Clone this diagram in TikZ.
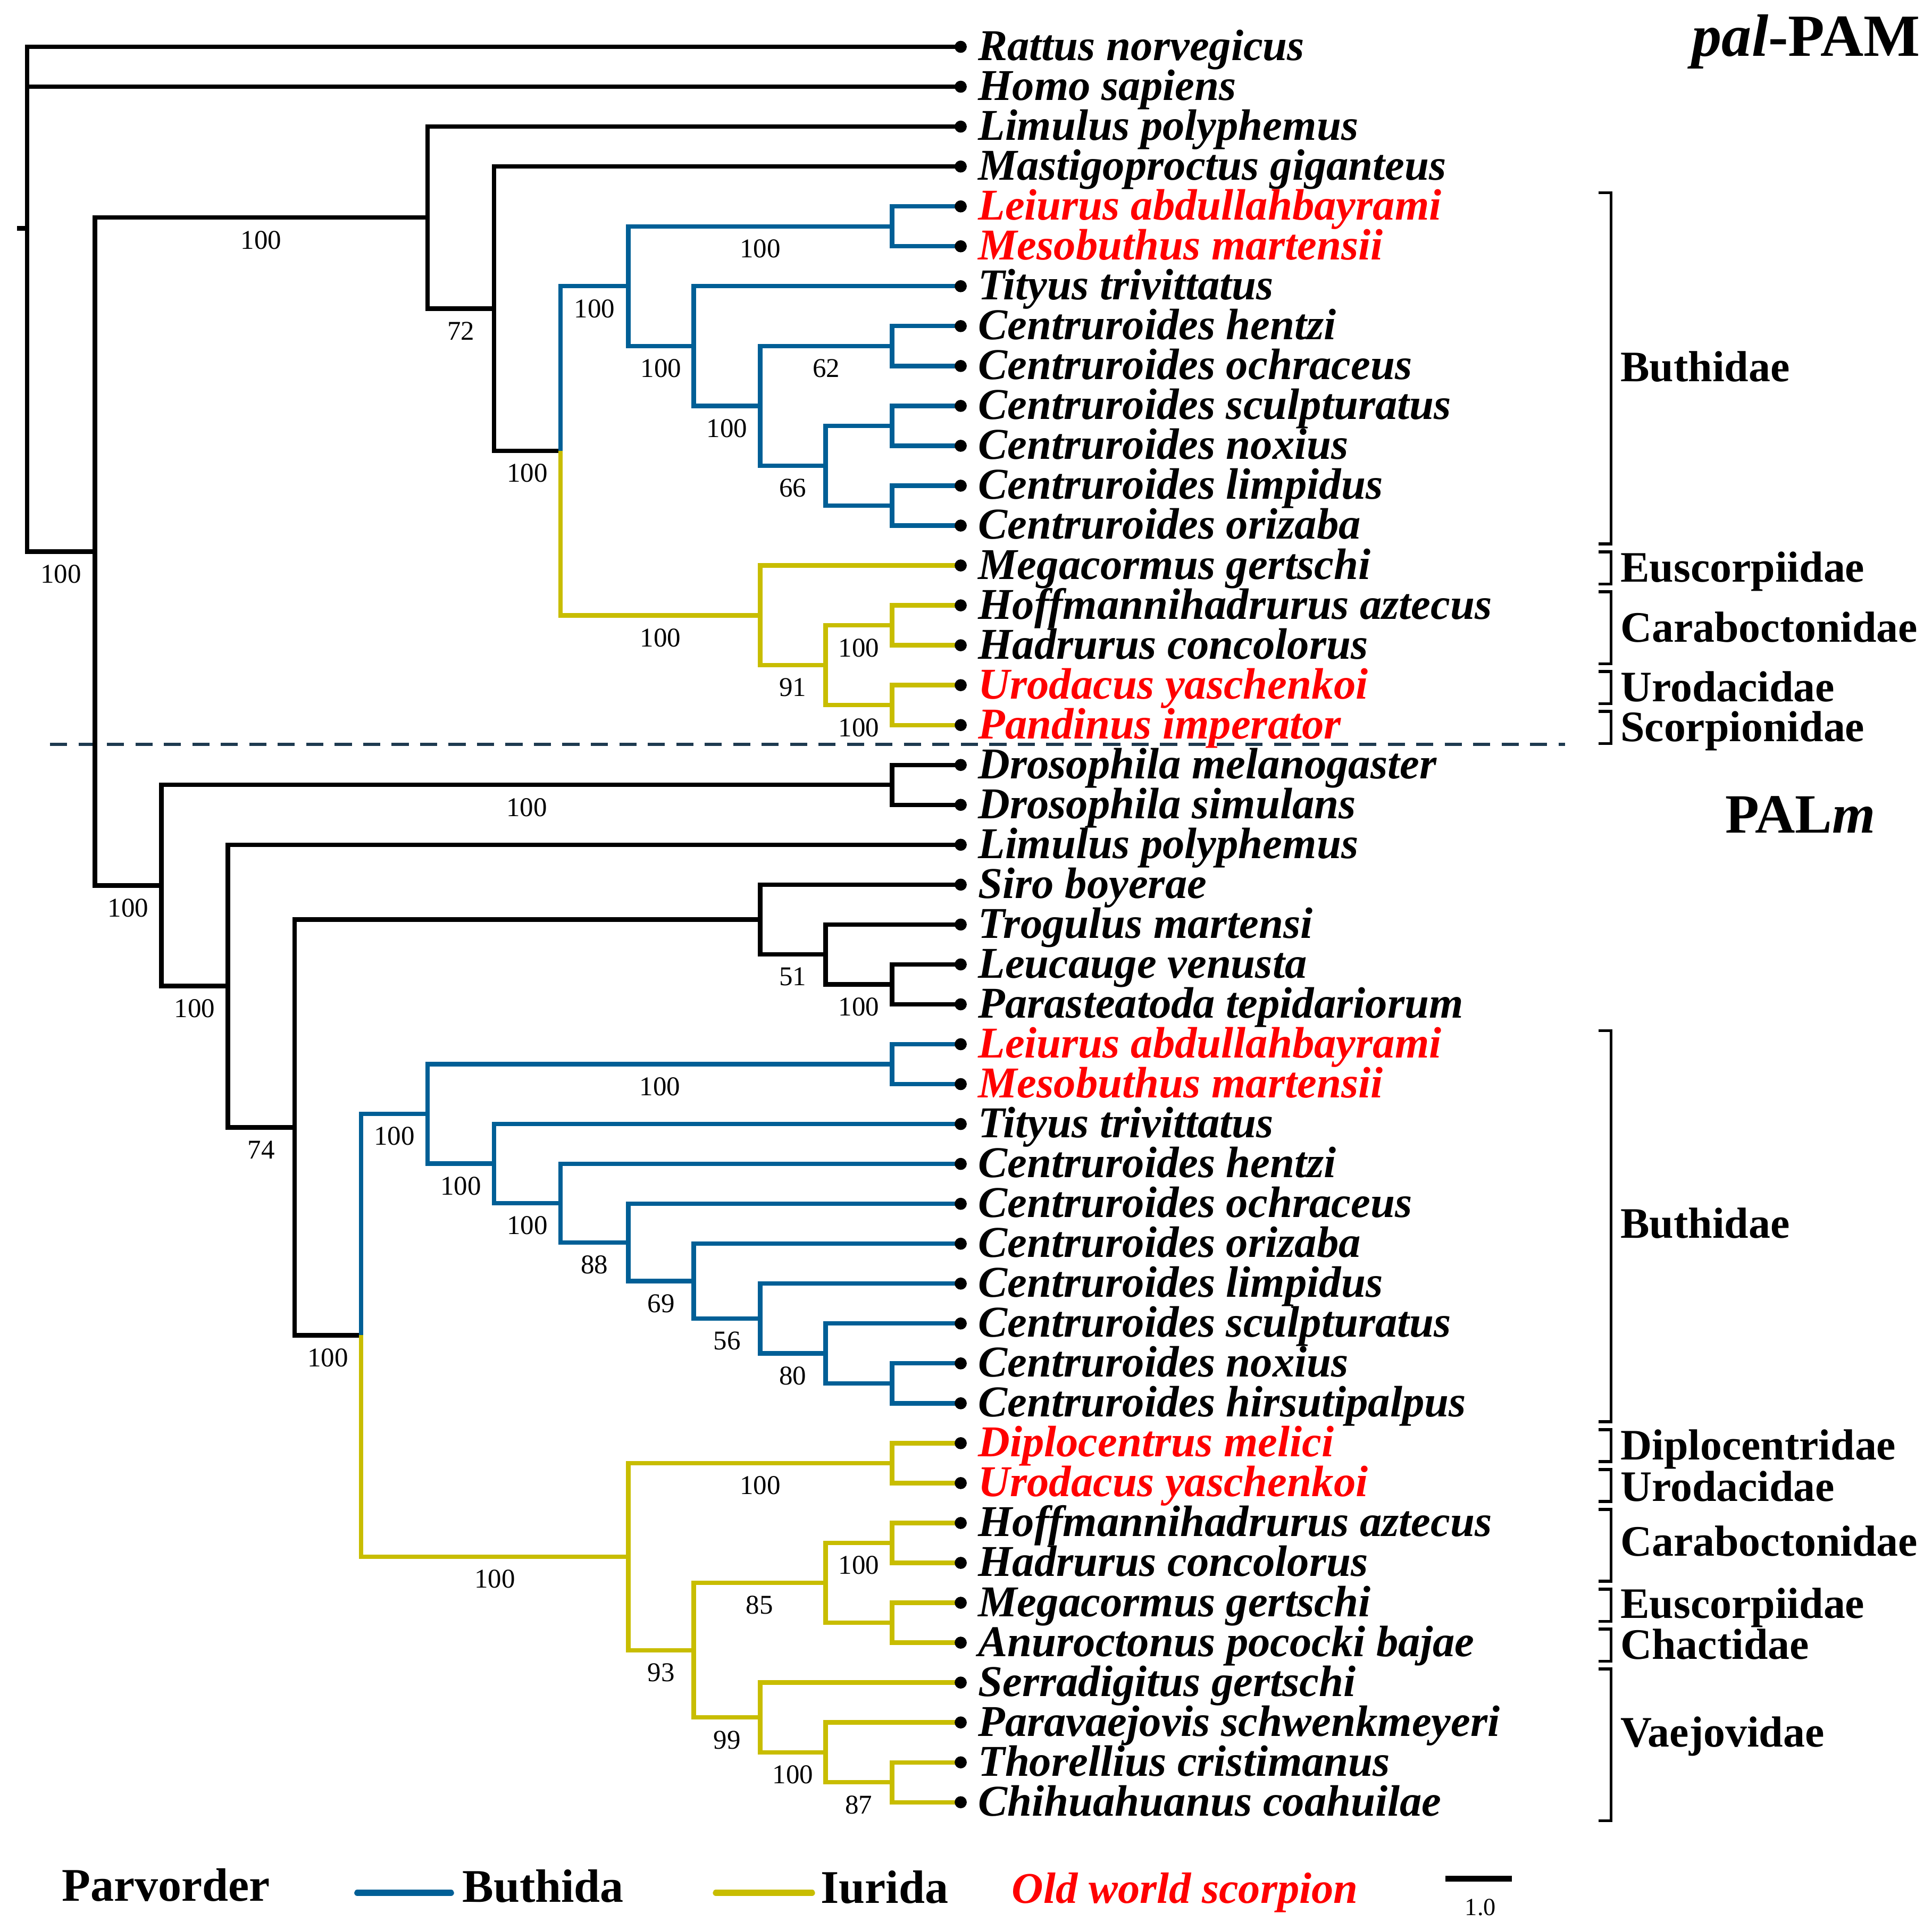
\documentclass[tikz,border=0pt]{standalone}
\usepackage{fontspec}
\setmainfont{Liberation Serif}
\definecolor{buth}{RGB}{0,95,150}
\definecolor{iur}{RGB}{200,189,0}
\definecolor{dashc}{RGB}{30,58,80}
\definecolor{owred}{RGB}{255,0,0}
\tikzset{
  br/.style={line width=3.6pt, line join=miter},
  brk/.style={line width=2.4pt, line join=miter},
  leafdot/.style={circle, fill=black, inner sep=0pt, minimum size=9.8pt},
  leaftxt/.style={anchor=base west, inner sep=0pt, font=\fontsize{35.7}{40}\selectfont\bfseries\itshape},
  boot/.style={pos=0.75, anchor=north, yshift=-9pt, inner sep=0pt, text=black, font=\fontsize{22}{24}\selectfont},
  fam/.style={anchor=base west, inner sep=0pt, font=\fontsize{35.3}{40}\selectfont\bfseries},
  legtxt/.style={anchor=base west, inner sep=0pt, font=\fontsize{38}{40}\selectfont\bfseries},
  legline/.style={line width=5pt, line cap=round},
}
\newcommand\tbr[3][black]{\draw[br,#1] (#2) |- (#3);}
\newcommand\tbl[5][black]{\draw[br,#1] (#2) |- (#3) node[boot] (#4) {#5};}
\newcommand\famlab[5]{%
  \pgfmathsetmacro\fya{38+32.386*#1-11}%
  \pgfmathsetmacro\fyb{38+32.386*#2+15}%
  \pgfmathsetmacro\fyc{38+32.386*(#1+#2)/2+13.5+#5}%
  \draw[brk] (1297.5,\fya) -- (1307.5,\fya) -- (1307.5,\fyb) -- (1297.5,\fyb);
  \node[fam] (#3) at (1315,\fyc) {#4};
}
\begin{document}
\begin{tikzpicture}[x=1pt,y=-1pt]
\useasboundingbox (0,0) rectangle (1568,1566.7);

% leaves
\foreach \i in {0,...,44} {\coordinate (l\i) at (779.7,{38+32.386*\i});}

% internal nodes
\coordinate (root) at (22,185.37);
\coordinate (stub) at (14,185.37);
\coordinate (nA) at (77,447.73);
\coordinate (nB) at (347,176.65);
\coordinate (nC) at (401,250.54);
\coordinate (nD) at (455,365.91);
\coordinate (nE) at (510,232.32);
\coordinate (nF) at (724,183.74);
\coordinate (nG) at (563,280.90);
\coordinate (nH) at (617,329.48);
\coordinate (nI) at (724,280.90);
\coordinate (nJ) at (670,378.06);
\coordinate (nK) at (724,345.67);
\coordinate (nL) at (724,410.45);
\coordinate (nM) at (617,499.51);
\coordinate (nN) at (670,539.99);
\coordinate (nO) at (724,507.60);
\coordinate (nP) at (724,572.38);
\coordinate (nQ) at (131,718.80);
\coordinate (nR) at (724,637.15);
\coordinate (nS) at (185,800.46);
\coordinate (nT) at (239,915.18);
\coordinate (nU) at (617,746.45);
\coordinate (nW) at (670,774.79);
\coordinate (nX) at (724,799.08);
\coordinate (nV) at (293,1083.92);
\coordinate (nY) at (347,904.21);
\coordinate (nYa) at (724,863.85);
\coordinate (nAA) at (401,944.56);
\coordinate (nAB) at (455,976.70);
\coordinate (nAC) at (510,1008.58);
\coordinate (nAD) at (563,1039.95);
\coordinate (nAE) at (617,1070.32);
\coordinate (nAF) at (670,1098.65);
\coordinate (nAG) at (724,1122.94);
\coordinate (nZ) at (510,1263.62);
\coordinate (nZa) at (724,1187.72);
\coordinate (nAH) at (563,1339.53);
\coordinate (nAI) at (670,1284.87);
\coordinate (nAIa) at (724,1252.49);
\coordinate (nAIb) at (724,1317.26);
\coordinate (nAJ) at (617,1394.18);
\coordinate (nAK) at (670,1422.52);
\coordinate (nAKa) at (724,1446.81);

% dashed separator
\coordinate (dl) at (40.6,604.4);
\coordinate (dr) at (1270,604.4);
\draw[dashc, line width=2.6pt, dash pattern=on 13.9pt off 9.2pt] (dl) -- (dr);

% ---------- top tree (pal-PAM) ----------
\draw[br] (root) -- (stub);
\tbr{root}{l0}
\tbr{root}{l1}
\tbl{root}{nA}{b1}{100}
\tbl{nA}{nB}{b2}{100}
\tbr{nB}{l2}
\tbl{nB}{nC}{b3}{72}
\tbr{nC}{l3}
\tbl{nC}{nD}{b4}{100}
\tbl[buth]{nD}{nE}{b5}{100}
\tbl[buth]{nE}{nF}{b6}{100}
\tbr[buth]{nF}{l4}
\tbr[buth]{nF}{l5}
\tbl[buth]{nE}{nG}{b7}{100}
\tbr[buth]{nG}{l6}
\tbl[buth]{nG}{nH}{b8}{100}
\tbl[buth]{nH}{nI}{b9}{62}
\tbr[buth]{nI}{l7}
\tbr[buth]{nI}{l8}
\tbl[buth]{nH}{nJ}{b10}{66}
\tbr[buth]{nJ}{nK}
\tbr[buth]{nK}{l9}
\tbr[buth]{nK}{l10}
\tbr[buth]{nJ}{nL}
\tbr[buth]{nL}{l11}
\tbr[buth]{nL}{l12}
\tbl[iur]{nD}{nM}{b11}{100}
\tbr[iur]{nM}{l13}
\tbl[iur]{nM}{nN}{b12}{91}
\tbl[iur]{nN}{nO}{b13}{100}
\tbr[iur]{nO}{l14}
\tbr[iur]{nO}{l15}
\tbl[iur]{nN}{nP}{b14}{100}
\tbr[iur]{nP}{l16}
\tbr[iur]{nP}{l17}

% ---------- bottom tree (PALm) ----------
\tbl{nA}{nQ}{b15}{100}
\tbl{nQ}{nR}{b16}{100}
\tbr{nR}{l18}
\tbr{nR}{l19}
\tbl{nQ}{nS}{b17}{100}
\tbr{nS}{l20}
\tbl{nS}{nT}{b18}{74}
\tbr{nT}{nU}
\tbr{nU}{l21}
\tbl{nU}{nW}{b19}{51}
\tbr{nW}{l22}
\tbl{nW}{nX}{b20}{100}
\tbr{nX}{l23}
\tbr{nX}{l24}
\tbl{nT}{nV}{b21}{100}
\tbl[buth]{nV}{nY}{b22}{100}
\tbl[buth]{nY}{nYa}{b23}{100}
\tbr[buth]{nYa}{l25}
\tbr[buth]{nYa}{l26}
\tbl[buth]{nY}{nAA}{b24}{100}
\tbr[buth]{nAA}{l27}
\tbl[buth]{nAA}{nAB}{b25}{100}
\tbr[buth]{nAB}{l28}
\tbl[buth]{nAB}{nAC}{b26}{88}
\tbr[buth]{nAC}{l29}
\tbl[buth]{nAC}{nAD}{b27}{69}
\tbr[buth]{nAD}{l30}
\tbl[buth]{nAD}{nAE}{b28}{56}
\tbr[buth]{nAE}{l31}
\tbl[buth]{nAE}{nAF}{b29}{80}
\tbr[buth]{nAF}{l32}
\tbr[buth]{nAF}{nAG}
\tbr[buth]{nAG}{l33}
\tbr[buth]{nAG}{l34}
\tbl[iur]{nV}{nZ}{b30}{100}
\tbl[iur]{nZ}{nZa}{b31}{100}
\tbr[iur]{nZa}{l35}
\tbr[iur]{nZa}{l36}
\tbl[iur]{nZ}{nAH}{b32}{93}
\tbl[iur]{nAH}{nAI}{b33}{85}
\tbl[iur]{nAI}{nAIa}{b34}{100}
\tbr[iur]{nAIa}{l37}
\tbr[iur]{nAIa}{l38}
\tbr[iur]{nAI}{nAIb}
\tbr[iur]{nAIb}{l39}
\tbr[iur]{nAIb}{l40}
\tbl[iur]{nAH}{nAJ}{b35}{99}
\tbr[iur]{nAJ}{l41}
\tbl[iur]{nAJ}{nAK}{b36}{100}
\tbr[iur]{nAK}{l42}
\tbl[iur]{nAK}{nAKa}{b37}{87}
\tbr[iur]{nAKa}{l43}
\tbr[iur]{nAKa}{l44}

% leaf dots and names
\foreach \i/\n/\c in {
 0/Rattus norvegicus/black, 1/Homo sapiens/black, 2/Limulus polyphemus/black,
 3/Mastigoproctus giganteus/black, 4/Leiurus abdullahbayrami/owred,
 5/Mesobuthus martensii/owred, 6/Tityus trivittatus/black,
 7/Centruroides hentzi/black, 8/Centruroides ochraceus/black,
 9/Centruroides sculpturatus/black, 10/Centruroides noxius/black,
 11/Centruroides limpidus/black, 12/Centruroides orizaba/black,
 13/Megacormus gertschi/black, 14/Hoffmannihadrurus aztecus/black,
 15/Hadrurus concolorus/black, 16/Urodacus yaschenkoi/owred,
 17/Pandinus imperator/owred, 18/Drosophila melanogaster/black,
 19/Drosophila simulans/black, 20/Limulus polyphemus/black,
 21/Siro boyerae/black, 22/Trogulus martensi/black,
 23/Leucauge venusta/black, 24/Parasteatoda tepidariorum/black,
 25/Leiurus abdullahbayrami/owred, 26/Mesobuthus martensii/owred,
 27/Tityus trivittatus/black, 28/Centruroides hentzi/black,
 29/Centruroides ochraceus/black, 30/Centruroides orizaba/black,
 31/Centruroides limpidus/black, 32/Centruroides sculpturatus/black,
 33/Centruroides noxius/black, 34/Centruroides hirsutipalpus/black,
 35/Diplocentrus melici/owred, 36/Urodacus yaschenkoi/owred,
 37/Hoffmannihadrurus aztecus/black, 38/Hadrurus concolorus/black,
 39/Megacormus gertschi/black, 40/Anuroctonus pococki bajae/black,
 41/Serradigitus gertschi/black, 42/Paravaejovis schwenkmeyeri/black,
 43/Thorellius cristimanus/black, 44/Chihuahuanus coahuilae/black} {
  \node[leafdot] (d\i) at (l\i) {};
  \node[leaftxt, text=\c] (t\i) at ([xshift=14pt,yshift=-11pt]l\i) {\n};
}

% family brackets
\famlab{4}{12}{fb1}{Buthidae}{-1}
\famlab{13}{13}{fb2}{Euscorpiidae}{0}
\famlab{14}{15}{fb3}{Caraboctonidae}{0}
\famlab{16}{16}{fb4}{Urodacidae}{0}
\famlab{17}{17}{fb5}{Scorpionidae}{0}
\famlab{25}{34}{fb6}{Buthidae}{-2}
\famlab{35}{35}{fb7}{Diplocentridae}{0}
\famlab{36}{36}{fb8}{Urodacidae}{1}
\famlab{37}{38}{fb9}{Caraboctonidae}{-3}
\famlab{39}{39}{fb10}{Euscorpiidae}{-1}
\famlab{40}{40}{fb11}{Chactidae}{0}
\famlab{41}{44}{fb12}{Vaejovidae}{-10}

% titles
\node[anchor=base west, inner sep=0pt, font=\fontsize{48.5}{50}\selectfont\bfseries] (ttl1) at (1373,45.7) {\textit{pal}-PAM};
\node[anchor=base west, inner sep=0pt, font=\fontsize{45}{50}\selectfont\bfseries] (ttl2) at (1400,676) {PAL\textit{m}};

% legend
\node[legtxt] (lg1) at (50,1543) {Parvorder};
\coordinate (lb1) at (290,1536.5);
\coordinate (lb2) at (366,1536.5);
\draw[legline, buth] (lb1) -- (lb2);
\node[legtxt] (lg2) at (375,1544) {Buthida};
\coordinate (ly1) at (581,1536.5);
\coordinate (ly2) at (659,1536.5);
\draw[legline, iur] (ly1) -- (ly2);
\node[legtxt] (lg3) at (666,1545) {Iurida};
\node[anchor=base west, inner sep=0pt, text=owred, font=\fontsize{35.6}{40}\selectfont\bfseries\itshape] (lg4) at (821,1545) {Old world scorpion};
\coordinate (sb1) at (1173,1525);
\coordinate (sb2) at (1227,1525);
\draw[line width=4.7pt] (sb1) -- (sb2);
\node[anchor=base, inner sep=0pt, font=\fontsize{20}{22}\selectfont] (sbl) at (1201.5,1555) {1.0};
\end{tikzpicture}
\end{document}
